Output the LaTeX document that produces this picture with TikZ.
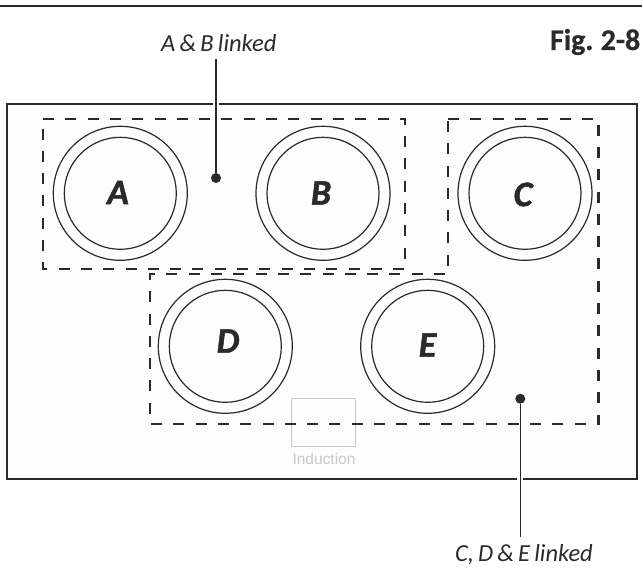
\documentclass[tikz,border=0pt]{standalone}
\usepackage{fontspec}
\setmainfont[WordSpace=0.75,BoldItalicFeatures={FakeBold=1.3},BoldFeatures={FakeBold=0.5}]{Carlito}
\newfontfamily\indfont{Liberation Sans}
\definecolor{ink}{HTML}{2A2A2A}
\definecolor{panel}{HTML}{FDFDFD}
\definecolor{faint}{HTML}{C8C8C8}
\tikzset{
  ring/.style={circle,draw=ink,line width=1.2pt,inner sep=0pt,minimum size=#1},
  letter/.style={text=ink,inner sep=0pt,font=\fontsize{36}{36}\selectfont\bfseries\itshape},
  zone/.style={draw=ink,line width=2.1pt,dash pattern=on 11pt off 11.3pt},
  leader/.style={draw=ink,line width=1.4pt},
  halo/.style={draw=white,line width=6pt},
  linkdot/.style={circle,fill=ink,inner sep=0pt,minimum size=10pt},
  caption/.style={text=ink,inner sep=0pt,font=\fontsize{24.5}{24}\selectfont\itshape},
}
\begin{document}
\begin{tikzpicture}[x=1pt,y=-1pt]
\useasboundingbox (0,0) rectangle (642,582);
\fill[white] (0,0) rectangle (642,582);
\draw[ink,line width=1.8pt] (0,6) -- (642,6);
\node[anchor=east,text=ink,inner sep=0pt,font=\fontsize{30}{30}\selectfont\bfseries] (fig) at (640.5,42) {Fig. 2-8};
\draw[ink,fill=panel,line width=2pt] (7,103.5) rectangle (637,478.7);
% induction box
\node[draw=faint,line width=1pt,minimum width=64pt,minimum height=47.5pt,inner sep=0pt] (ind) at (323,422.3) {};
\node[text=faint,inner sep=0pt,font=\fontsize{15.5}{16}\selectfont\indfont] (indt) at (324,459) {Induction};
% zones
\draw[zone] (43,119) -- (405,119) -- (405,269) -- (43,269) -- cycle;
\draw[zone] (448,119) -- (598.5,119) -- (598.5,424) -- (150,424) -- (150,274) -- (448,274) -- cycle;
% rings
\foreach \n/\cx/\cy in {A/120.3/193.3,B/323/193.3,C/525/193.3,D/225.3/346.3,E/427.7/346.3}{
  \node[ring=134pt] (outer\n) at (\cx,\cy) {};
  \node[ring=112pt] (inner\n) at (\cx,\cy) {};
}
\node[letter] (lA) at (118,192.5) {A};
\node[letter] (lB) at (321,193) {B};
\node[letter] (lC) at (523,194.5) {C};
\node[letter] (lD) at (228,341) {D};
\node[letter] (lE) at (427.5,345) {E};
% callouts
\node[caption] (abcap) at (218.8,43.5) {A \& B linked};
\node[caption] (cdecap) at (524,554.5) {C, D \& E linked};
\coordinate (abtop) at (216,58.5);
\coordinate (cdebot) at (520.3,537);
\node[linkdot] (abdot) at (216,178) {};
\node[linkdot] (cdedot) at (520.3,398.7) {};
\draw[halo] (216,100) -- (216,107);
\draw[halo] (520.3,475) -- (520.3,482);
\draw[leader] (abtop) -- (abdot);
\draw[leader] (cdedot) -- (cdebot);
\end{tikzpicture}
\end{document}
